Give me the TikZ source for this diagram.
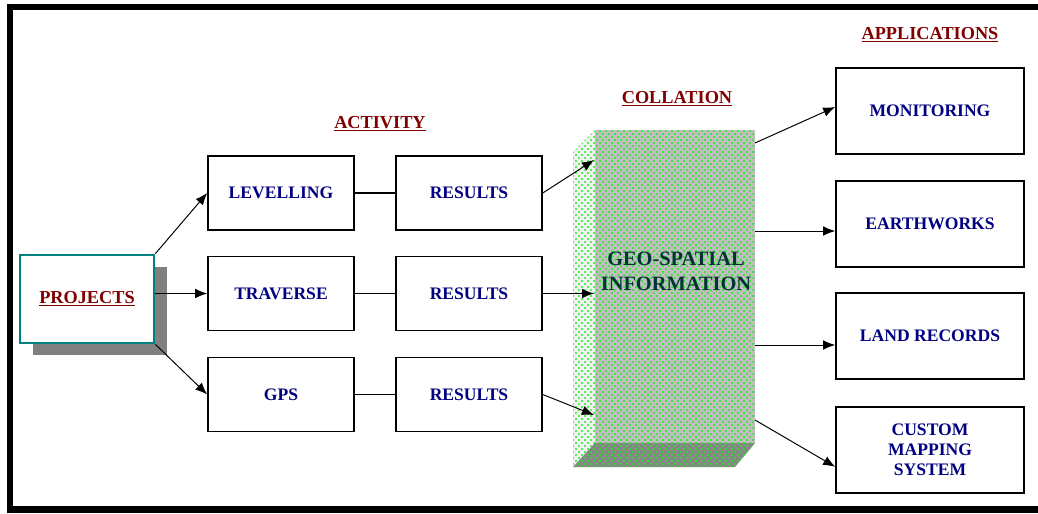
\documentclass[tikz,border=0pt]{standalone}
\usepackage{fontspec}
\setmainfont{Liberation Serif}
\usetikzlibrary{arrows.meta,shadows}

\definecolor{boxtext}{RGB}{0,0,128}
\definecolor{titlered}{RGB}{128,0,0}
\definecolor{tealline}{RGB}{0,128,128}
\definecolor{geotext}{RGB}{0,51,51}
\definecolor{hatchgreen}{RGB}{30,240,30}

\tikzset{
  stagebox/.style={draw, line width=1.1pt, minimum width=3.65cm, minimum height=1.85cm,
    align=center, text=boxtext, font=\fontsize{12.5}{14.2}\selectfont\bfseries},
  appbox/.style={stagebox, minimum width=4.7cm, minimum height=2.15cm},
  heading/.style={text=titlered, font=\fontsize{13}{15}\selectfont\bfseries},
  link/.style={line width=0.7pt, -{Latex[length=0.3cm,width=0.24cm]}},
}

\begin{document}
\begin{tikzpicture}[x=0.025cm,y=-0.025cm]
\useasboundingbox (0,0) rectangle (1038,513);
% frame
\fill (7,4) rectangle (1038,10);
\fill (7,4) rectangle (13,513);
\fill (7,506) rectangle (1038,513);

% headings
\node[heading] (activity) at (380,124) {\underline{ACTIVITY}};
\node[heading] (collation) at (677,99) {\underline{COLLATION}};
\node[heading] (applications) at (930,35) {\underline{APPLICATIONS}};

% source
\node[draw=tealline, line width=2pt, fill=white, minimum width=3.35cm, minimum height=2.2cm,
  heading, drop shadow={shadow xshift=0.32cm, shadow yshift=-0.3cm, fill=gray, opacity=1}]
  (projects) at (87,299) {\underline{PROJECTS}};

% activity
\node[stagebox] (levelling) at (281,193) {LEVELLING};
\node[stagebox] (results1) at (469,193) {RESULTS};
\node[stagebox] (traverse) at (281,293.5) {TRAVERSE};
\node[stagebox] (results2) at (469,293.5) {RESULTS};
\node[stagebox] (gps) at (281,394.5) {GPS};
\node[stagebox] (results3) at (469,394.5) {RESULTS};

% collation block
\fill[gray!10] (573,152) -- (595,130) -- (595,443) -- (573,467) -- cycle;
\fill[gray!50] (595,130) rectangle (755,443);
\fill[gray!95] (573,467) -- (595,443) -- (755,443) -- (735,467) -- cycle;
\begin{scope}
  \clip (573,152) -- (595,130) -- (755,130) -- (755,443) -- (735,467) -- (573,467) -- cycle;
  \foreach \i in {0,...,31}
    \foreach \j in {0,...,57} {
      \fill[hatchgreen] (573+\i*6,128+\j*6) circle (0.026cm);
      \fill[hatchgreen] (576+\i*6,131+\j*6) circle (0.026cm);
    }
\end{scope}
\node[text=geotext, font=\fontsize{14.5}{17.7}\selectfont\bfseries, align=center]
  (geoinfo) at (676,271) {GEO-SPATIAL\\INFORMATION};
\coordinate (in1) at (594,160);
\coordinate (in2) at (594,293.5);
\coordinate (in3) at (594,415);
\coordinate (out1) at (755,143);
\coordinate (out2) at (755,231);
\coordinate (out3) at (755,345);
\coordinate (out4) at (755,420);

% applications
\node[appbox] (monitoring) at (930,111) {MONITORING};
\node[appbox] (earthworks) at (930,224) {EARTHWORKS};
\node[appbox] (landrecords) at (930,336) {LAND RECORDS};
\node[appbox] (custom) at (930,450) {CUSTOM\\MAPPING\\SYSTEM};

% connectors
\draw[link] (projects.north east) -- (levelling.west);
\draw[link] (projects.east |- traverse) -- (traverse.west);
\draw[link] (projects.south east) -- (gps.west);
\draw[line width=1pt] (levelling) -- (results1);
\draw[line width=1pt] (traverse) -- (results2);
\draw[line width=1pt] (gps) -- (results3);
\draw[link] (results1.east) -- (in1);
\draw[link] (results2.east) -- (in2);
\draw[link] (results3.east) -- (in3);
\draw[link] (out1) -- ([yshift=0.1cm]monitoring.west);
\draw[link] (out2) -- (out2 -| earthworks.west);
\draw[link] (out3) -- (out3 -| landrecords.west);
\draw[link] (out4) -- ([yshift=-0.42cm]custom.west);
\end{tikzpicture}
\end{document}
